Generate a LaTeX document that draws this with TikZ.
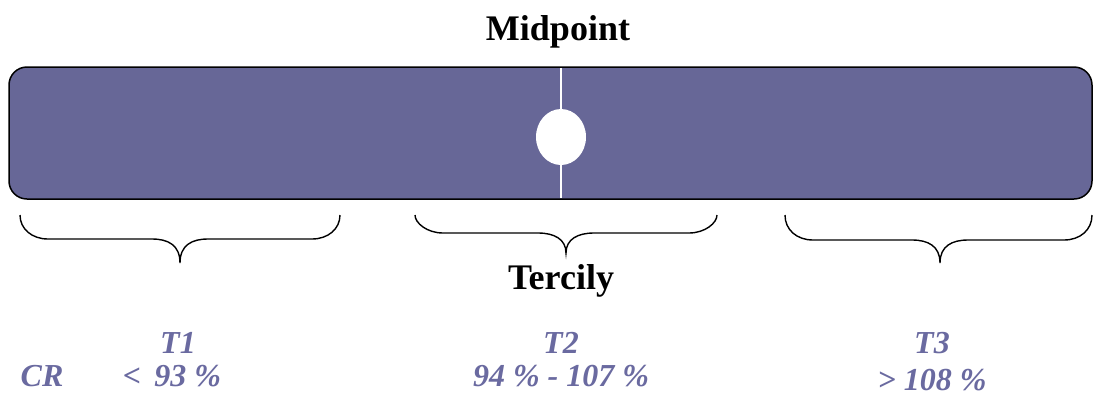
\documentclass[tikz,border=0pt]{standalone}
\usepackage{fontspec}
\setmainfont{Liberation Serif}
\definecolor{barfill}{RGB}{103,103,151}
\definecolor{bluetxt}{RGB}{106,106,160}
\newcommand{\mybrace}[6]{% x1 x2 xm ytop yh ytip
  \draw[bracestyle] (#1,#4) .. controls (#1,#5-10) and (#1+12,#5) .. (#1+28,#5) -- (#3-28,#5)
    .. controls (#3-12,#5) and (#3,#5+6) .. (#3,#6)
    .. controls (#3,#5+6) and (#3+12,#5) .. (#3+28,#5) -- (#2-28,#5)
    .. controls (#2-12,#5) and (#2,#5-10) .. (#2,#4);}
\begin{document}
\begin{tikzpicture}[x=1pt,y=-1pt,
  bracestyle/.style={line width=1.4pt,black},
  head/.style={font=\fontsize{36}{40}\selectfont\bfseries,anchor=base,inner sep=0pt},
  blue/.style={font=\fontsize{32}{36}\selectfont\bfseries\itshape,text=bluetxt,anchor=base,inner sep=0pt}]
\useasboundingbox (0,0) rectangle (1093,392);
\draw[fill=barfill,line width=1.5pt,rounded corners=18pt] (9,67) rectangle (1092,199);
\draw[white,line width=1.5pt] (561,67.8) -- (561,198.2);
\fill[white] (561,137) ellipse [x radius=25, y radius=28];
\node[head] (mid) at (558,40) {Midpoint};
\node[head] (ter) at (561,289) {Tercily};
\mybrace{20}{340}{180}{215}{239}{263}
\mybrace{415}{717}{566}{215}{233}{253}
\mybrace{785}{1092}{940}{215}{240}{263}
\node[blue] (t1) at (178,353) {T1};
\node[blue] (v1) at (172,386) {<\, 93 \%};
\node[blue] (cr) at (42,386) {CR};
\node[blue] (t2) at (561,353) {T2};
\node[blue] (v2) at (561,386) {94 \% - 107 \%};
\node[blue] (t3) at (932,353) {T3};
\node[blue] (v3) at (932,390) {> 108 \%};
\end{tikzpicture}
\end{document}
